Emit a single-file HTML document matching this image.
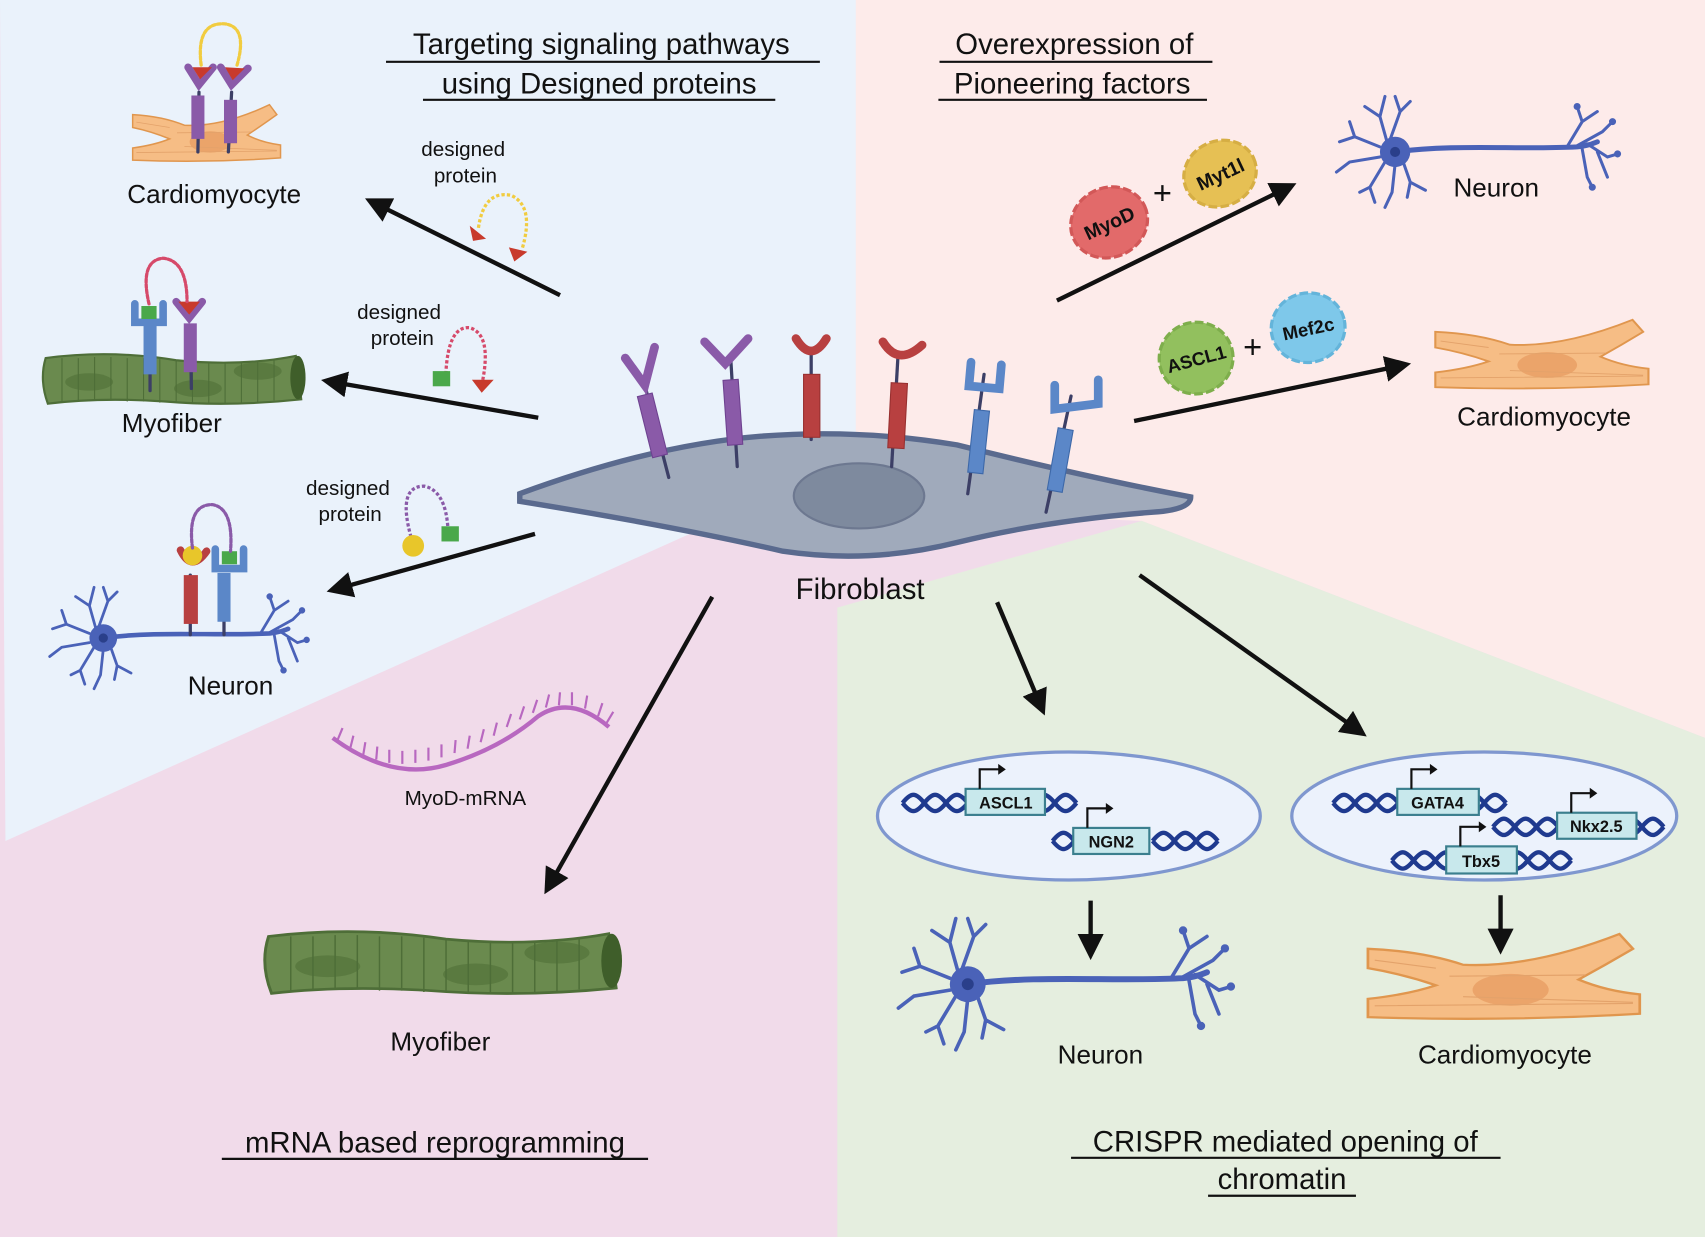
<!DOCTYPE html>
<html><head><meta charset="utf-8"><style>
html,body{margin:0;padding:0;background:#fff}
svg{display:block}
text{font-family:"Liberation Sans",sans-serif;fill:#111}
</style></head><body>
<svg width="1705" height="1237" viewBox="0 0 1568 1140" preserveAspectRatio="none" xmlns="http://www.w3.org/2000/svg">
<defs>
<marker id="ah" viewBox="0 0 10 10" refX="8" refY="5" markerWidth="6" markerHeight="6" orient="auto" markerUnits="strokeWidth"><path d="M0,0 L10,5 L0,10 Z" fill="#111"/></marker>
<g id="neuron" stroke="#4a62b8" fill="none" stroke-linecap="round">
  <path d="M0,0 C60,-8 120,-2 180,-5 C190,-6 195,-8 200,-10" stroke-width="5"/>
  <path d="M170,-5 L185,-30 L180,-45 M185,-30 L200,-40 M178,-5 L205,-20 L215,-30 M190,-8 L210,5 L220,2 M185,-3 L190,25 L195,35 M200,0 L210,25" stroke-width="3"/>
  <path d="M-8,-10 L-15,-35 L-30,-45 M-15,-35 L-10,-55 M-5,-12 L5,-40 L15,-50 M5,-40 L0,-55 M-15,-5 L-40,-15 L-55,-10 M-40,-15 L-45,-30 M-15,5 L-45,10 L-58,20 M-10,10 L-25,35 L-35,40 M-25,35 L-20,50 M0,12 L-3,40 L-10,55 M8,10 L15,30 L30,38 M15,30 L12,45" stroke-width="3"/>
  <circle cx="0" cy="0" r="15" fill="#4a62b8" stroke="none"/>
  <circle cx="0" cy="0" r="5" fill="#2a3f8a" stroke="none"/>
  <circle cx="180" cy="-45" r="3" fill="#4a62b8"/><circle cx="215" cy="-30" r="3" fill="#4a62b8"/><circle cx="220" cy="2" r="3" fill="#4a62b8"/><circle cx="195" cy="35" r="3" fill="#4a62b8"/>
</g>
<g id="cardio">
  <path d="M-100,-32 Q-60,-30 -30,-18 Q20,-15 85,-45 L95,-32 Q75,-18 55,-5 Q75,5 100,8 L100,25 Q0,32 -100,28 L-100,12 Q-70,8 -50,0 Q-75,-10 -100,-15 Z" fill="#f6bd85" stroke="#e0964e" stroke-width="2"/>
  <ellipse cx="5" cy="4" rx="28" ry="14" fill="#eba46a"/>
  <path d="M-95,18 L95,16 M-40,-8 L60,-9 M-95,-22 L-50,-15 M-30,10 L95,15" stroke="#e3a26a" stroke-width="1"/>
</g>
<g id="myo">
  <path d="M0,0 Q60,-8 120,2 Q180,8 230,-2 L235,38 Q170,45 110,40 Q50,36 2,42 Q-6,20 0,0 Z" fill="#6a8a4e" stroke="#4e6e38" stroke-width="2"/>
  <ellipse cx="232" cy="18" rx="7" ry="20" fill="#3f5e2a"/>
  <ellipse cx="40" cy="22" rx="22" ry="8" fill="#5a7a40"/><ellipse cx="140" cy="28" rx="22" ry="8" fill="#5a7a40"/><ellipse cx="195" cy="12" rx="22" ry="8" fill="#5a7a40"/>
  <path d="M15,0 v40 M30,0 v40 M45,-1 v40 M60,-1 v40 M75,0 v40 M90,0 v40 M105,1 v40 M120,2 v38 M135,3 v38 M150,4 v38 M165,4 v38 M180,4 v38 M195,3 v38 M210,1 v38" stroke="#4e6e38" stroke-width="1"/>
</g>
<path id="dna" d="M0,0 C8,-10 12,-10 20,0 C28,10 32,10 40,0 C48,-10 52,-10 60,0 M0,0 C8,10 12,10 20,0 C28,-10 32,-10 40,0 C48,10 52,10 60,0" stroke="#1f3a8f" stroke-width="4" fill="none"/>
</defs>

<rect width="1568" height="1140" fill="#f1dbea"/>
<polygon points="0,0 790,0 790,400 650,485 5,775" fill="#eaf2fb"/>
<polygon points="787,0 1568,0 1568,680 1050,480 787,470" fill="#fdebea"/>
<polygon points="770,560 1050,480 1568,680 1568,1140 770,1140" fill="#e5eedf"/>
<polygon points="650,485 770,560 770,470" fill="#f1dbea"/>

<g font-size="27" text-anchor="middle">
<text x="553" y="50">Targeting signaling pathways</text>
<text x="551" y="86">using Designed proteins</text>
<text x="988" y="50">Overexpression of</text>
<text x="986" y="86">Pioneering factors</text>
<text x="400" y="1062">mRNA based reprogramming</text>
<text x="1182" y="1061">CRISPR mediated opening of</text>
<text x="1179" y="1096">chromatin</text>
</g>
<g stroke="#111" stroke-width="2">
<line x1="355" y1="57" x2="754" y2="57"/><line x1="389" y1="92" x2="713" y2="92"/>
<line x1="864" y1="57" x2="1115" y2="57"/><line x1="863" y1="92" x2="1110" y2="92"/>
<line x1="204" y1="1068" x2="596" y2="1068"/><line x1="985" y1="1067" x2="1380" y2="1067"/><line x1="1111" y1="1102" x2="1247" y2="1102"/>
</g>

<g stroke="#111" stroke-width="4" marker-end="url(#ah)">
<line x1="515" y1="272" x2="340" y2="185"/>
<line x1="495" y1="385" x2="300" y2="351"/>
<line x1="492" y1="492" x2="305" y2="544"/>
<line x1="972" y1="277" x2="1188" y2="171"/>
<line x1="1043" y1="388" x2="1293" y2="336"/>
<line x1="655" y1="550" x2="503" y2="820"/>
<line x1="917" y1="555" x2="959" y2="655"/>
<line x1="1048" y1="530" x2="1253" y2="676"/>
<line x1="1003" y1="830" x2="1003" y2="880"/>
<line x1="1380" y1="825" x2="1380" y2="875"/>
</g>

<path d="M478,455 Q600,410 700,402 Q790,395 880,410 Q1000,440 1095,458 Q1095,470 1060,472 Q960,480 880,500 Q800,520 720,508 Q620,485 478,462 Z" fill="#a0aabb" stroke="#5a6a8e" stroke-width="5"/>
<ellipse cx="790" cy="457" rx="60" ry="30" fill="#7e8a9e" stroke="#6d7890" stroke-width="2"/>
<text x="791" y="552" font-size="27" text-anchor="middle">Fibroblast</text>
<g stroke-linecap="round">
<g stroke="#3c3f66" stroke-width="3"><line x1="593" y1="355" x2="615" y2="440"/><line x1="672" y1="330" x2="678" y2="430"/><line x1="746" y1="325" x2="746" y2="405"/><line x1="826" y1="325" x2="820" y2="430"/><line x1="905" y1="345" x2="890" y2="455"/><line x1="985" y1="365" x2="962" y2="472"/></g>
<path d="M575,330 L593,355 L602,320" stroke="#8a5aa8" stroke-width="8" fill="none"/>
<path d="M648,315 L667,335 L688,312" stroke="#8a5aa8" stroke-width="8" fill="none"/>
<rect x="593" y="363" width="14" height="58" fill="#8a5aa8" transform="rotate(-14 600 392)" stroke="#6e4290"/>
<rect x="667" y="350" width="14" height="60" fill="#8a5aa8" transform="rotate(-4 674 380)" stroke="#6e4290"/>
<path d="M732,312 Q746,335 760,312" stroke="#b84040" stroke-width="8" fill="none"/>
<path d="M812,315 Q826,338 848,318" stroke="#b84040" stroke-width="8" fill="none"/>
<rect x="739" y="345" width="15" height="58" fill="#b84040" stroke="#983030"/>
<rect x="818" y="353" width="15" height="60" fill="#b84040" stroke="#983030" transform="rotate(3 825 383)"/>
<path d="M892,335 L892,357 L920,357 L920,335" stroke="#5b87c8" stroke-width="8" fill="none" transform="rotate(5 906 346)"/>
<path d="M970,355 L970,377 L1010,372 L1010,350" stroke="#5b87c8" stroke-width="8" fill="none"/>
<rect x="893" y="378" width="14" height="58" fill="#5b87c8" stroke="#3d68a8" transform="rotate(6 900 407)"/>
<rect x="968" y="395" width="14" height="58" fill="#5b87c8" stroke="#3d68a8" transform="rotate(10 975 424)"/>
</g>

<use href="#cardio" transform="translate(190,128) scale(0.68,0.7)"/>
<g stroke-linecap="round">
<line x1="183" y1="85" x2="182" y2="140" stroke="#3c3f66" stroke-width="3"/><line x1="213" y1="85" x2="210" y2="140" stroke="#3c3f66" stroke-width="3"/>
<rect x="176" y="88" width="12" height="40" fill="#8a5aa8"/><rect x="206" y="92" width="12" height="40" fill="#8a5aa8"/>
<path d="M173,62 L183,78 L196,62 M203,62 L213,78 L228,63" stroke="#8a5aa8" stroke-width="7" fill="none"/>
<path d="M177,62 L195,62 L184,73Z M207,62 L225,63 L214,74Z" fill="#c83a2c"/>
<path d="M185,60 Q180,20 207,22 Q228,25 218,60" stroke="#f1cc40" stroke-width="3" fill="none" stroke-dasharray="3 2"/>
</g>
<text x="197" y="187" font-size="24" text-anchor="middle">Cardiomyocyte</text>
<text x="426" y="144" font-size="19" text-anchor="middle">designed</text>
<text x="428" y="168" font-size="19" text-anchor="middle">protein</text>
<path d="M440,210 Q445,175 470,180 Q492,190 480,230" stroke="#f1cc40" stroke-width="3" fill="none" stroke-dasharray="3 2"/>
<path d="M432,208 L447,220 L435,222Z M468,228 L485,232 L473,241Z" fill="#c83a2c"/>

<use href="#myo" transform="translate(42,330)"/>
<g stroke-linecap="round">
<line x1="138" y1="300" x2="138" y2="360" stroke="#3c3f66" stroke-width="3"/><line x1="175" y1="300" x2="176" y2="358" stroke="#3c3f66" stroke-width="3"/>
<rect x="132" y="300" width="12" height="45" fill="#5b87c8"/><rect x="169" y="298" width="12" height="45" fill="#8a5aa8"/>
<path d="M124,280 L124,297 L150,297 L150,280" stroke="#5b87c8" stroke-width="7" fill="none"/>
<rect x="130" y="282" width="14" height="12" fill="#4aa84a"/>
<path d="M162,278 L174,293 L186,278" stroke="#8a5aa8" stroke-width="7" fill="none"/>
<path d="M164,278 L184,278 L174,290Z" fill="#c83a2c"/>
<path d="M137,280 Q128,240 150,238 Q172,240 172,278" stroke="#d64a6a" stroke-width="3" fill="none" stroke-dasharray="3 2"/>
</g>
<text x="158" y="398" font-size="24" text-anchor="middle">Myofiber</text>
<text x="367" y="294" font-size="19" text-anchor="middle">designed</text>
<text x="370" y="318" font-size="19" text-anchor="middle">protein</text>
<path d="M410,345 Q412,300 432,302 Q452,308 444,350" stroke="#d64a6a" stroke-width="3" fill="none" stroke-dasharray="3 2"/>
<rect x="398" y="342" width="16" height="14" fill="#4aa84a"/>
<path d="M434,350 L454,350 L443,362Z" fill="#c83a2c"/>

<use href="#neuron" transform="translate(95,588) scale(0.85)"/>
<g stroke-linecap="round">
<line x1="175" y1="530" x2="175" y2="585" stroke="#3c3f66" stroke-width="3"/><line x1="206" y1="530" x2="206" y2="585" stroke="#3c3f66" stroke-width="3"/>
<rect x="169" y="530" width="13" height="45" fill="#b84040"/><rect x="200" y="528" width="12" height="45" fill="#5b87c8"/>
<path d="M166,507 Q176,528 190,508" stroke="#b84040" stroke-width="7" fill="none"/>
<circle cx="177" cy="512" r="9" fill="#e8c62a"/>
<path d="M198,506 L198,524 L224,524 L224,506" stroke="#5b87c8" stroke-width="7" fill="none"/>
<rect x="204" y="508" width="14" height="12" fill="#4aa84a"/>
<path d="M177,505 Q172,465 195,465 Q215,468 212,508" stroke="#8a5aa8" stroke-width="3" fill="none" stroke-dasharray="3 2"/>
</g>
<text x="212" y="640" font-size="24" text-anchor="middle">Neuron</text>
<text x="320" y="456" font-size="19" text-anchor="middle">designed</text>
<text x="322" y="480" font-size="19" text-anchor="middle">protein</text>
<path d="M378,495 Q365,448 390,448 Q410,452 412,488" stroke="#8a5aa8" stroke-width="3" fill="none" stroke-dasharray="3 2"/>
<circle cx="380" cy="503" r="10" fill="#e8c62a"/><rect x="406" y="485" width="16" height="14" fill="#4aa84a"/>

<g transform="rotate(-25 1020 205)"><ellipse cx="1020" cy="205" rx="36" ry="32" fill="#e26a6a" stroke="#d25858" stroke-width="3" stroke-dasharray="8 3"/><text x="1020" y="212" font-size="18" font-weight="bold" text-anchor="middle">MyoD</text></g>
<text x="1069" y="188" font-size="30" text-anchor="middle">+</text>
<g transform="rotate(-25 1122 160)"><ellipse cx="1122" cy="160" rx="34" ry="30" fill="#e6c054" stroke="#d6ae44" stroke-width="3" stroke-dasharray="8 3"/><text x="1122" y="167" font-size="18" font-weight="bold" text-anchor="middle">Myt1l</text></g>
<g transform="rotate(-15 1100 330)"><ellipse cx="1100" cy="330" rx="34" ry="33" fill="#92c05e" stroke="#7eae4c" stroke-width="3" stroke-dasharray="8 3"/><text x="1100" y="337" font-size="17" font-weight="bold" text-anchor="middle">ASCL1</text></g>
<text x="1152" y="330" font-size="30" text-anchor="middle">+</text>
<g transform="rotate(-12 1203 302)"><ellipse cx="1203" cy="302" rx="34" ry="32" fill="#7ec8ea" stroke="#64b4da" stroke-width="3" stroke-dasharray="8 3"/><text x="1203" y="309" font-size="17" font-weight="bold" text-anchor="middle">Mef2c</text></g>
<use href="#neuron" transform="translate(1283,140) scale(0.93)"/>
<text x="1376" y="181" font-size="24" text-anchor="middle">Neuron</text>
<use href="#cardio" transform="translate(1418,333) scale(0.98,0.85)"/>
<text x="1420" y="392" font-size="24" text-anchor="middle">Cardiomyocyte</text>

<path d="M306,680 Q360,720 410,705 Q460,690 495,660 Q525,640 560,670" stroke="#b868c0" stroke-width="4" fill="none"/>
<path d="M310,683 l5,-12 M322,690 l3,-12 M334,696 l2,-12 M346,700 l1,-12 M358,703 l0,-12 M370,704 l0,-12 M382,703 l0,-12 M394,701 l0,-12 M406,698 l0,-12 M418,694 l1,-12 M430,690 l2,-12 M442,684 l3,-12 M454,678 l3,-12 M466,670 l4,-12 M478,663 l4,-12 M490,657 l4,-12 M502,652 l3,-12 M514,650 l1,-12 M526,650 l0,-12 M538,653 l2,-12 M550,660 l4,-12 M558,666 l6,-10" stroke="#b868c0" stroke-width="2"/>
<text x="428" y="742" font-size="19" text-anchor="middle">MyoD-mRNA</text>
<use href="#myo" transform="translate(247,863) scale(1.36,1.25)"/>
<text x="405" y="968" font-size="24" text-anchor="middle">Myofiber</text>

<ellipse cx="983" cy="752" rx="176" ry="59" fill="#ecf2fc" stroke="#7f97cf" stroke-width="3"/>
<ellipse cx="1365" cy="752" rx="177" ry="59" fill="#ecf2fc" stroke="#7f97cf" stroke-width="3"/>
<g font-size="15" font-weight="bold" text-anchor="middle">
<use href="#dna" x="830" y="740"/><use href="#dna" x="930" y="740"/>
<rect x="888" y="727" width="73" height="24" fill="#c8e8ec" stroke="#3b7f8e" stroke-width="2"/><text x="925" y="745">ASCL1</text>
<path d="M901,727 v-18 h18" stroke="#111" stroke-width="2" fill="none"/><path d="M918,704 l7,5 l-7,5z" fill="#111"/>
<use href="#dna" x="968" y="775"/><use href="#dna" x="1060" y="775"/>
<rect x="987" y="763" width="70" height="24" fill="#c8e8ec" stroke="#3b7f8e" stroke-width="2"/><text x="1022" y="781">NGN2</text>
<path d="M1000,763 v-18 h18" stroke="#111" stroke-width="2" fill="none"/><path d="M1017,740 l7,5 l-7,5z" fill="#111"/>
<use href="#dna" x="1226" y="740"/><use href="#dna" x="1325" y="740"/>
<rect x="1285" y="727" width="75" height="24" fill="#c8e8ec" stroke="#3b7f8e" stroke-width="2"/><text x="1322" y="745">GATA4</text>
<path d="M1298,727 v-18 h18" stroke="#111" stroke-width="2" fill="none"/><path d="M1315,704 l7,5 l-7,5z" fill="#111"/>
<use href="#dna" x="1373" y="762"/><use href="#dna" x="1470" y="762"/>
<rect x="1432" y="749" width="73" height="24" fill="#c8e8ec" stroke="#3b7f8e" stroke-width="2"/><text x="1468" y="767">Nkx2.5</text>
<path d="M1445,749 v-18 h18" stroke="#111" stroke-width="2" fill="none"/><path d="M1462,726 l7,5 l-7,5z" fill="#111"/>
<use href="#dna" x="1280" y="793"/><use href="#dna" x="1385" y="793"/>
<rect x="1330" y="780" width="65" height="25" fill="#c8e8ec" stroke="#3b7f8e" stroke-width="2"/><text x="1362" y="799">Tbx5</text>
<path d="M1343,780 v-18 h18" stroke="#111" stroke-width="2" fill="none"/><path d="M1360,757 l7,5 l-7,5z" fill="#111"/>
</g>

<use href="#neuron" transform="translate(890,907) scale(1.1)"/>
<text x="1012" y="980" font-size="24" text-anchor="middle">Neuron</text>
<use href="#cardio" transform="translate(1383,908) scale(1.25,1.05)"/>
<text x="1384" y="980" font-size="24" text-anchor="middle">Cardiomyocyte</text>
</svg>
</body></html>
